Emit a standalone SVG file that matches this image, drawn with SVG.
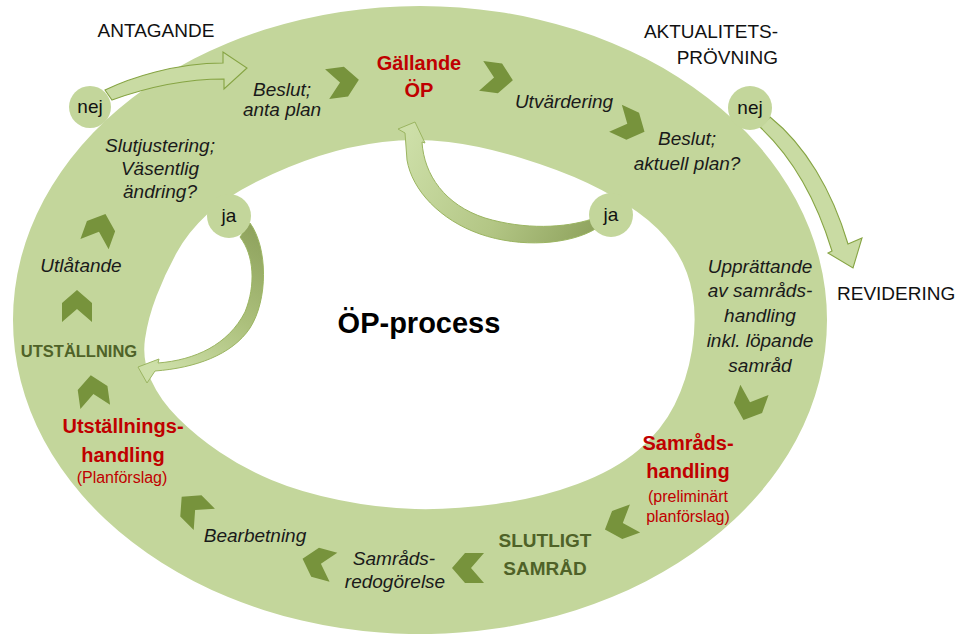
<svg xmlns="http://www.w3.org/2000/svg" width="955" height="634" viewBox="0 0 955 634">
<defs>
<style>
.t{font-family:"Liberation Sans",Arial,sans-serif;fill:#000}
.c{text-anchor:middle}
.it{font-style:italic;font-size:19px;fill:#1a1a1a}
.lbl{font-size:19px;fill:#111}
.red{font-weight:bold;font-size:20px;fill:#c00000}
.redsub{font-size:16px;fill:#c00000}
.dg{font-weight:bold;fill:#4f6228}
.bub{fill:#c3d69b}
.chev{fill:#77933c}
.blk{fill:#c9dba3;stroke:#86a443;stroke-width:1.1}
</style>
<polygon id="chev" points="-16,-15 3,-15 16,0 3,15 -16,15 -3,0"/>
<linearGradient id="gC" gradientUnits="userSpaceOnUse" x1="252" y1="228" x2="160" y2="368">
<stop offset="0" stop-color="#8fa35e"/><stop offset="0.5" stop-color="#acc07c"/><stop offset="1" stop-color="#cddfa8"/>
</linearGradient>
<linearGradient id="gD" gradientUnits="userSpaceOnUse" x1="598" y1="226" x2="410" y2="130">
<stop offset="0" stop-color="#8fa35e"/><stop offset="0.45" stop-color="#b3c685"/><stop offset="1" stop-color="#cddfa8"/>
</linearGradient>
</defs>

<g id="ring">
<path fill="#c3d69b" fill-rule="evenodd" d="M 13 320 A 407 314 0 1 0 827 320 A 407 314 0 1 0 13 320 Z M 151 380 Q 142 360 145 339 Q 148 318 156.5 296 Q 165 274 176.5 253 Q 188 232 207 214.5 Q 226 197 257 181.5 Q 288 166 319 156 Q 350 146 382.5 142 Q 415 138 448.5 142 Q 482 146 521 158 Q 560 170 587.5 183 Q 615 196 637.5 212 Q 660 228 674 248 Q 688 268 692.5 294 Q 697 320 692 350 Q 687 380 674.5 405 Q 662 430 638.5 450 Q 615 470 577.5 484 Q 540 498 496 504 Q 452 510 415 509 Q 378 508 339 500 Q 300 492 271.5 480 Q 243 468 219.5 452 Q 196 436 178 418 Q 160 400 151 380 Z"/>
</g>

<g id="connectors">
<path id="arrow-nej-beslut" class="blk" d="M 105 90 C 130 78 175 63 223 63 L 223 52 L 247 68 L 224 89 L 224 79 C 185 79 145 88 112 100 Z"/>
<path id="arrow-nej-revidering" class="blk" d="M 760 127 C 790 155 815 195 832 251 L 828 253 L 853 268 L 862 238 L 848 244 C 832 190 805 145 770 117 Z"/>
<path id="arrow-ja-utstallning" fill="url(#gC)" stroke="#9bb561" stroke-width="1" d="M 250 223 C 268 248 268 300 250 328 C 232 355 195 368 155 371 L 147 383 L 138 367 L 159 359 L 158 363 C 195 360 228 345 245 312 C 256 285 254 255 240 237 Z"/>
<path id="arrow-ja-gallande" fill="url(#gD)" stroke="#9bb561" stroke-width="1" d="M 597 228 C 570 245 520 248 480 234 C 440 220 412 190 407 160 L 405 133 L 398 129 L 415 122 L 425 143 L 422 142 C 424 175 445 205 485 218 C 525 230 565 228 592 219 Z"/>
<g id="flow-chevrons" class="chev">
<use href="#chev" transform="translate(343,82) rotate(-8)"/>
<use href="#chev" transform="translate(497,78) rotate(8)"/>
<use href="#chev" transform="translate(630,125) rotate(25)"/>
<use href="#chev" transform="translate(749,405) rotate(110)"/>
<use href="#chev" transform="translate(620,524) rotate(160)"/>
<use href="#chev" transform="translate(468,568) rotate(180)"/>
<use href="#chev" transform="translate(318,563) rotate(195)"/>
<use href="#chev" transform="translate(193,508) rotate(225)"/>
<use href="#chev" transform="translate(93,391) rotate(262)"/>
<use href="#chev" transform="translate(77,306) rotate(270)"/>
<use href="#chev" transform="translate(100,229) rotate(290)"/>
</g>
</g>

<g id="antagande"><text class="t lbl c" x="156" y="37">ANTAGANDE</text></g>
<g id="aktualitetsprovning">
<text class="t lbl" text-anchor="end" x="778" y="38">AKTUALITETS-</text>
<text class="t lbl" text-anchor="end" x="778" y="64">PRÖVNING</text>
</g>
<g id="revidering"><text class="t lbl" x="837" y="300">REVIDERING</text></g>

<g id="nej-left"><circle class="bub" cx="90" cy="107" r="21"/><text class="t lbl c" x="90" y="113">nej</text></g>
<g id="nej-right"><circle class="bub" cx="750" cy="108" r="22"/><text class="t lbl c" x="750" y="114">nej</text></g>
<g id="ja-left"><circle class="bub" cx="229" cy="216" r="22"/><text class="t lbl c" x="229" y="222">ja</text></g>
<g id="ja-right"><circle class="bub" cx="611" cy="215" r="22"/><text class="t lbl c" x="611" y="221">ja</text></g>

<g id="beslut-anta"><text class="t it c" x="282" y="96">Beslut;</text><text class="t it c" x="282" y="116">anta plan</text></g>
<g id="gallande-op"><text class="t red c" x="419" y="70">Gällande</text><text class="t red c" x="419" y="97">ÖP</text></g>
<g id="utvardering"><text class="t it c" x="564" y="108">Utvärdering</text></g>
<g id="beslut-aktuell"><text class="t it c" x="687" y="145">Beslut;</text><text class="t it c" x="687" y="170">aktuell plan?</text></g>
<g id="upprattande">
<text class="t it c" x="760" y="273">Upprättande</text>
<text class="t it c" x="760" y="297">av samråds-</text>
<text class="t it c" x="760" y="322">handling</text>
<text class="t it c" x="760" y="347">inkl. löpande</text>
<text class="t it c" x="760" y="372">samråd</text>
</g>
<g id="samradshandling">
<text class="t red c" x="688" y="450">Samråds-</text>
<text class="t red c" x="688" y="478">handling</text>
<text class="t redsub c" x="688" y="502">(preliminärt</text>
<text class="t redsub c" x="688" y="522">planförslag)</text>
</g>
<g id="slutligt-samrad"><text class="t dg c" style="font-size:19px" x="545" y="547">SLUTLIGT</text><text class="t dg c" style="font-size:19px" x="545" y="575">SAMRÅD</text></g>
<g id="samradsredogorelse"><text class="t it c" x="394" y="565">Samråds-</text><text class="t it c" x="395" y="588">redogörelse</text></g>
<g id="bearbetning"><text class="t it c" x="255" y="542">Bearbetning</text></g>
<g id="utstallningshandling">
<text class="t red c" x="123" y="433">Utställnings-</text>
<text class="t red c" x="123" y="462">handling</text>
<text class="t redsub c" x="122" y="483">(Planförslag)</text>
</g>
<g id="utstallning"><text class="t dg c" style="font-size:16.5px" x="79" y="357">UTSTÄLLNING</text></g>
<g id="utlatande"><text class="t it c" x="81" y="272">Utlåtande</text></g>
<g id="slutjustering">
<text class="t it c" x="160" y="152">Slutjustering;</text>
<text class="t it c" x="160" y="175">Väsentlig</text>
<text class="t it c" x="160" y="198">ändring?</text>
</g>
<g id="op-process"><text class="t c" style="font-weight:bold;font-size:29px" x="419" y="333">ÖP-process</text></g>
</svg>
